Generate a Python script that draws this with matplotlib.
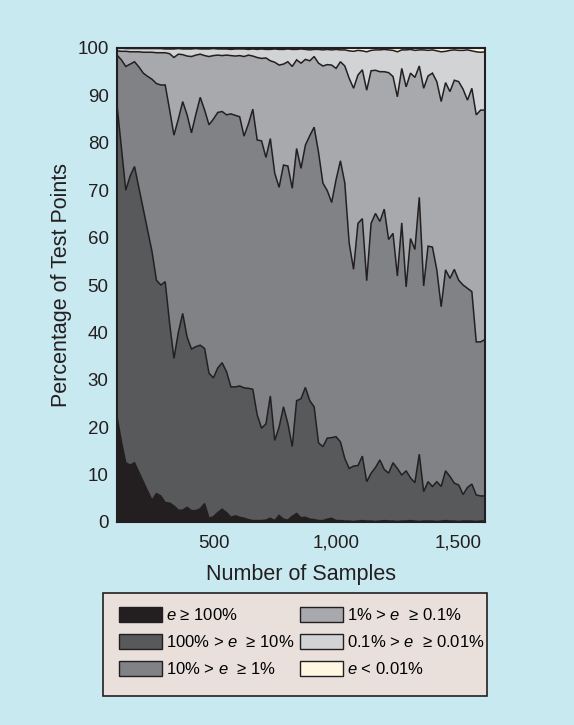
import numpy as np
import matplotlib
matplotlib.use("Agg")
import matplotlib.pyplot as plt
from matplotlib.patches import Patch, Rectangle

plt.rcParams['font.family'] = ['Liberation Sans', 'DejaVu Sans']
plt.rcParams['mathtext.fontset'] = 'custom'
plt.rcParams['mathtext.it'] = 'Liberation Sans:italic'
plt.rcParams['mathtext.rm'] = 'Liberation Sans'

# number of samples (x axis)
samples = np.arange(100, 1613, 18)

# cumulative percentage of test points, upper edge of each error band
upto_100 = [22.2, 17.0, 12.5, 12.0, 12.5, 10.5, 8.5, 6.5, 4.6, 6.0,
            5.5, 4.1, 4.0, 3.4, 2.5, 2.5, 3.1, 2.4, 2.4, 2.8,
            3.9, 0.8, 1.1, 2.0, 2.7, 2.0, 1.0, 1.3, 1.0, 0.8,
            0.5, 0.3, 0.3, 0.3, 0.4, 0.8, 0.3, 1.4, 0.6, 0.4,
            1.2, 1.8, 0.9, 1.0, 0.6, 0.5, 0.3, 0.3, 0.6, 0.8,
            0.3, 0.3, 0.2, 0.2, 0.1, 0.2, 0.3, 0.2, 0.2, 0.1,
            0.2, 0.3, 0.2, 0.2, 0.1, 0.2, 0.2, 0.3, 0.2, 0.1,
            0.2, 0.2, 0.2, 0.1, 0.2, 0.3, 0.2, 0.2, 0.1, 0.2,
            0.2, 0.2, 0.1, 0.2, 0.2]
upto_10 = [88.0, 79.0, 70.0, 73.0, 75.0, 70.5, 66.0, 61.5, 57.0, 51.0,
           50.0, 50.7, 42.0, 34.5, 40.0, 44.0, 39.0, 36.5, 37.0, 37.3,
           36.6, 31.4, 30.4, 32.5, 33.6, 31.7, 28.5, 28.5, 28.7, 28.3,
           28.2, 28.0, 22.6, 19.8, 20.7, 26.6, 17.2, 20.0, 24.3, 20.8,
           15.9, 25.6, 26.0, 28.4, 25.6, 24.3, 16.7, 15.9, 17.7, 17.8,
           18.0, 16.9, 13.4, 11.3, 11.8, 11.9, 13.9, 8.5, 10.3, 11.5,
           13.1, 11.1, 10.3, 12.5, 11.3, 9.9, 10.8, 9.3, 8.3, 14.3,
           6.4, 8.5, 7.5, 8.5, 7.5, 10.8, 9.6, 8.2, 7.8, 5.8,
           7.3, 8.0, 5.7, 5.5, 5.5]
upto_1 = [98.5, 97.5, 96.1, 96.6, 97.1, 96.0, 94.7, 94.0, 93.4, 92.5,
          92.2, 92.2, 87.0, 81.6, 85.0, 88.7, 85.9, 82.1, 86.0, 89.6,
          86.9, 83.8, 85.0, 86.4, 86.6, 85.9, 86.1, 85.8, 85.5, 81.4,
          84.0, 87.1, 80.6, 80.4, 76.9, 80.9, 73.6, 70.6, 75.3, 75.1,
          70.4, 78.8, 74.6, 79.5, 81.5, 83.3, 78.0, 71.5, 69.9, 67.4,
          72.2, 76.2, 71.5, 58.8, 53.3, 63.0, 64.0, 50.9, 63.0, 65.1,
          63.4, 66.0, 59.6, 60.9, 51.9, 63.1, 49.6, 59.8, 57.5, 68.5,
          49.8, 58.2, 58.0, 53.2, 45.4, 53.2, 51.4, 53.3, 51.0, 50.0,
          49.3, 48.6, 38.0, 38.0, 38.5]
upto_01 = [99.4, 99.3, 99.3, 99.2, 99.2, 99.2, 99.1, 99.1, 99.1, 99.0,
           99.0, 99.0, 98.8, 98.0, 98.7, 98.6, 98.3, 98.2, 98.5, 98.7,
           98.4, 98.2, 98.4, 98.5, 98.4, 98.5, 98.4, 98.3, 98.4, 98.2,
           98.5, 98.3, 98.0, 97.8, 97.9, 97.3, 97.0, 96.4, 96.6, 97.1,
           96.1, 97.5, 96.8, 97.6, 97.3, 98.2, 96.8, 96.2, 96.5, 96.4,
           95.7, 97.1, 96.2, 93.6, 91.5, 94.3, 95.4, 91.1, 95.2, 95.3,
           95.0, 95.0, 94.8, 94.0, 89.7, 95.7, 91.8, 94.7, 93.8, 96.2,
           91.5, 94.1, 94.7, 92.9, 88.7, 92.7, 90.8, 93.2, 92.9, 91.3,
           89.0, 91.5, 85.9, 86.9, 86.9]
upto_001 = [100.0, 100.0, 99.9, 99.9, 99.9, 99.9, 99.9, 99.9, 99.9, 99.9,
            99.9, 99.8, 99.8, 99.8, 99.9, 99.8, 99.8, 99.8, 99.9, 99.8,
            99.8, 99.8, 99.9, 99.8, 99.8, 99.8, 99.7, 99.8, 99.8, 99.8,
            99.7, 99.8, 99.7, 99.8, 99.7, 99.7, 99.8, 99.7, 99.7, 99.8,
            99.7, 99.7, 99.8, 99.7, 99.6, 99.7, 99.7, 99.6, 99.7, 99.6,
            99.7, 99.6, 99.6, 99.4, 99.3, 99.5, 99.4, 99.2, 99.5, 99.6,
            99.6, 99.7, 99.6, 99.5, 99.2, 99.6, 99.6, 99.7, 99.5, 99.6,
            99.6, 99.5, 99.6, 99.4, 99.2, 99.3, 99.5, 99.6, 99.5, 99.5,
            99.6, 99.4, 99.2, 99.1, 99.2]

labels = [r'$e$ ≥ 100%', r'100% > $e$  ≥ 10%', r'10% > $e$  ≥ 1%',
          r'1% > $e$  ≥ 0.1%', r'0.1% > $e$  ≥ 0.01%', r'$e$ < 0.01%']
colors = ['#231f20', '#58595b', '#808285', '#a7a9ac', '#d1d3d4', '#fff7e2']
line_c = '#231f20'
bg = '#c9e9f0'

W, H = 574, 725
fig = plt.figure(figsize=(W / 100, H / 100), dpi=100, facecolor=bg)
ax = fig.add_axes([117 / W, 1 - 522 / H, 368 / W, 474 / H])

bottom = np.zeros(len(samples))
top = np.full(len(samples), 100.0)
edges = [bottom, upto_100, upto_10, upto_1, upto_01, upto_001, top]
for i in range(6):
    ax.fill_between(samples, edges[i], edges[i + 1], facecolor=colors[i], linewidth=0)
for e in edges[1:-1]:
    ax.plot(samples, e, color=line_c, lw=1.1, solid_joinstyle='miter')

ax.set_xlim(samples[0], samples[-1])
ax.set_ylim(0, 100)
ax.set_yticks(range(0, 101, 10))
ax.set_xticks([500, 1000, 1500])
ax.set_xticklabels(['500', '1,000', '1,500'])
ax.tick_params(length=0, labelsize=13.5, colors='#231f20')
ax.tick_params(axis='y', pad=6)
ax.tick_params(axis='x', pad=9)
for s in ax.spines.values():
    s.set_color(line_c)
    s.set_linewidth(1.5)
ax.set_xlabel('Number of Samples', fontsize=15.5, color='#231f20', labelpad=9)
ax.set_ylabel('Percentage of Test Points', fontsize=15.5, color='#231f20', labelpad=4)

# legend box
fig.patches.append(Rectangle((103 / W, 1 - 696 / H), 384 / W, 103 / H,
                             transform=fig.transFigure, facecolor='#e9e0dc',
                             edgecolor=line_c, linewidth=1.2, zorder=0))
handles = [Patch(facecolor=c, edgecolor=line_c, linewidth=1) for c in colors]
leg = fig.legend(handles, labels, ncol=2, loc='upper left',
                 bbox_to_anchor=(119 / W, 1 - 607 / H),
                 fontsize=12, frameon=False,
                 handlelength=2.6, handleheight=1.05, handletextpad=0.25,
                 labelspacing=0.62, columnspacing=0.3, borderpad=0, borderaxespad=0)

fig.savefig('out.png', dpi=100, facecolor=bg)
